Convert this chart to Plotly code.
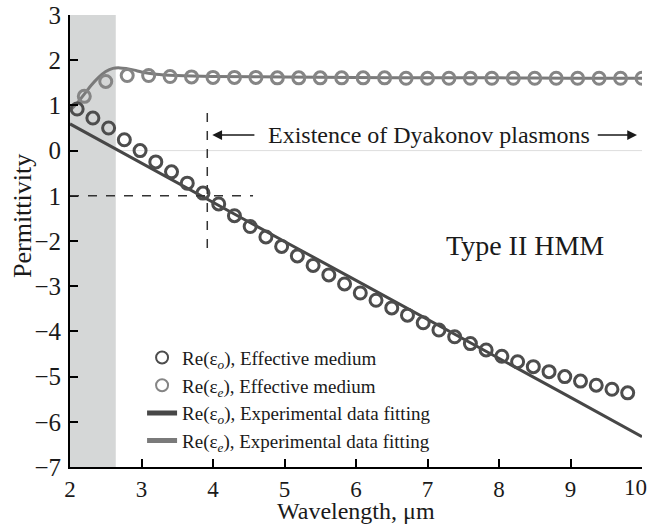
import plotly.graph_objects as go

# ---- data ----
eo_x = [2.10, 2.32, 2.54, 2.76, 2.98, 3.20, 3.42, 3.64, 3.86, 4.08, 4.30, 4.52,
        4.74, 4.96, 5.18, 5.40, 5.62, 5.84, 6.06, 6.28, 6.50, 6.72, 6.94, 7.16,
        7.38, 7.60, 7.82, 8.04, 8.26, 8.48, 8.70, 8.92, 9.14, 9.36, 9.58, 9.80]
eo_y = [0.92, 0.72, 0.50, 0.24, 0.00, -0.25, -0.47, -0.72, -0.94, -1.18, -1.44, -1.68,
        -1.91, -2.12, -2.33, -2.54, -2.75, -2.95, -3.15, -3.31, -3.48, -3.64, -3.81, -3.97,
        -4.12, -4.27, -4.41, -4.55, -4.67, -4.78, -4.89, -5.00, -5.10, -5.19, -5.28, -5.36]

ee_x = [2.2, 2.5, 2.8, 3.1, 3.4, 3.7, 4.0, 4.3, 4.6, 4.9, 5.2, 5.5, 5.8, 6.1,
        6.4, 6.7, 7.0, 7.3, 7.6, 7.9, 8.2, 8.5, 8.8, 9.1, 9.4, 9.7, 10.0]
ee_y = [1.20, 1.53, 1.66, 1.66, 1.64, 1.63, 1.62, 1.62, 1.62, 1.61, 1.61, 1.61, 1.61, 1.61,
        1.61, 1.60, 1.60, 1.60, 1.60, 1.60, 1.60, 1.60, 1.60, 1.60, 1.60, 1.60, 1.60]

fo_x = [2, 3, 4, 5, 6, 7, 8, 9, 10]
fo_y = [0.59, -0.28, -1.14, -2.01, -2.87, -3.73, -4.60, -5.46, -6.33]

fe_x = [2.0, 2.1, 2.2, 2.3, 2.4, 2.5, 2.6, 2.7, 2.8, 2.9, 3.0, 3.2, 3.5, 4.0, 5.0, 6.0, 7.0, 8.0, 9.0, 10.0]
fe_y = [0.88, 1.05, 1.25, 1.45, 1.62, 1.75, 1.82, 1.83, 1.81, 1.78, 1.74, 1.69, 1.66, 1.64,
        1.63, 1.62, 1.61, 1.61, 1.60, 1.60]

y_tickvals = [3, 2, 1, 0, -1, -2, -3, -4, -5, -6, -7]
y_ticktext = ["3", "2", "1", "0", "1", "−2", "−3", "−4", "−5", "−6", "−7"]
x_tickvals = [2, 3, 4, 5, 6, 7, 8, 9, 10]
x_ticktext = ["2", "3", "4", "5", "6", "7", "8", "9", ""]
x_last_label = "10"

band_x = [2.0, 2.64]
cross_x = 3.92
cross_y = -1.0
vline_y = [0.83, -2.25]
hline_x = [2.0, 4.56]
arrow_y = 0.345

FONT = "Liberation Serif"
DARK = "#4d4d4d"
LIGHT = "#858585"
TXT = "#1a1a1a"

fig = go.Figure()

fig.add_trace(go.Scatter(x=fe_x, y=fe_y, mode="lines", line=dict(color="#7a7a7a", width=3, shape="spline"),
                         name="Re(ε<sub><i>e</i></sub>), Experimental data fitting", legendrank=4))
fig.add_trace(go.Scatter(x=fo_x, y=fo_y, mode="lines", line=dict(color="#474747", width=3),
                         name="Re(ε<sub><i>o</i></sub>), Experimental data fitting", legendrank=3))
fig.add_trace(go.Scatter(x=ee_x, y=ee_y, mode="markers",
                         marker=dict(symbol="circle-open", size=12, color=LIGHT, line=dict(width=3, color=LIGHT)),
                         name="Re(ε<sub><i>e</i></sub>), Effective medium", legendrank=2))
fig.add_trace(go.Scatter(x=eo_x, y=eo_y, mode="markers",
                         marker=dict(symbol="circle-open", size=12, color=DARK, line=dict(width=3, color=DARK)),
                         name="Re(ε<sub><i>o</i></sub>), Effective medium", legendrank=1))

shapes = [
    dict(type="rect", xref="x", yref="paper", x0=band_x[0], x1=band_x[1], y0=0, y1=1,
         fillcolor="#d5d7d7", line=dict(width=0), layer="below"),
    dict(type="line", xref="x", yref="y", x0=band_x[1], x1=10, y0=0, y1=0,
         line=dict(color="#dddddd", width=1), layer="below"),
    dict(type="line", xref="x", yref="y", x0=cross_x, x1=cross_x, y0=vline_y[0], y1=vline_y[1],
         line=dict(color="#333333", width=1.5, dash="dash")),
    dict(type="line", xref="x", yref="y", x0=hline_x[0], x1=hline_x[1], y0=cross_y, y1=cross_y,
         line=dict(color="#333333", width=1.5, dash="dash")),
]

L, R, T, B, W, H = 70, 8, 15, 59, 650, 526
pw, ph = W - L - R, H - T - B

annotations = [
    dict(x=7.02, y=arrow_y, xref="x", yref="y", text="Existence of Dyakonov plasmons",
         showarrow=False, font=dict(family=FONT, size=24, color=TXT)),
    dict(x=3.99, y=arrow_y, ax=4.6, ay=arrow_y, xref="x", yref="y", axref="x", ayref="y",
         text="", showarrow=True, arrowhead=2, arrowsize=1.3, arrowwidth=1.5, arrowcolor=TXT),
    dict(x=9.93, y=arrow_y, ax=9.36, ay=arrow_y, xref="x", yref="y", axref="x", ayref="y",
         text="", showarrow=True, arrowhead=2, arrowsize=1.3, arrowwidth=1.5, arrowcolor=TXT),
    dict(x=8.37, y=-2.09, xref="x", yref="y", text="Type II HMM", showarrow=False,
         font=dict(family=FONT, size=28, color=TXT)),
    dict(x=(356 - L) / pw, y=(H - B - 511) / ph, xref="paper", yref="paper", text="Wavelength, μm",
         showarrow=False, xanchor="center", yanchor="middle",
         font=dict(family=FONT, size=24, color=TXT)),
    dict(x=(22 - L) / pw, y=(H - B - 216) / ph, xref="paper", yref="paper", text="Permittivity",
         showarrow=False, textangle=-90, xanchor="center", yanchor="middle",
         font=dict(family=FONT, size=26, color=TXT)),
    dict(x=x_tickvals[-1], y=(H - B - 488) / ph, xref="x", yref="paper", text=x_last_label,
         showarrow=False, xanchor="right", yanchor="middle", xshift=7,
         font=dict(family=FONT, size=23, color=TXT)),
]

fig.update_layout(
    width=W, height=H,
    margin=dict(l=L, r=R, t=T, b=B),
    paper_bgcolor="white", plot_bgcolor="white",
    font=dict(family=FONT, color=TXT, size=22),
    shapes=shapes, annotations=annotations,
    showlegend=True,
    legend=dict(x=0.126, y=0.284, xanchor="left", yanchor="top", bgcolor="rgba(0,0,0,0)",
                font=dict(family=FONT, size=19, color=TXT), tracegroupgap=0,
                itemsizing="constant", itemwidth=30),
)
fig.update_xaxes(range=[2, 10], tickvals=x_tickvals, ticktext=x_ticktext, ticks="inside", ticklen=8,
                 tickwidth=1.5, tickcolor="black", showline=True, linecolor="black", linewidth=2,
                 showgrid=False, zeroline=False, automargin=False,
                 tickfont=dict(size=23, color=TXT))
fig.update_yaxes(range=[-7, 3], tickvals=y_tickvals, ticktext=y_ticktext, ticks="inside", ticklen=8,
                 tickwidth=1.5, tickcolor="black", showline=True, linecolor="black", linewidth=2,
                 showgrid=False, zeroline=False, automargin=False, ticklabelstandoff=2,
                 tickfont=dict(size=25, color=TXT))

fig.write_html("out.html", post_script="document.body.style.margin='0';",
               config={"displayModeBar": False})
